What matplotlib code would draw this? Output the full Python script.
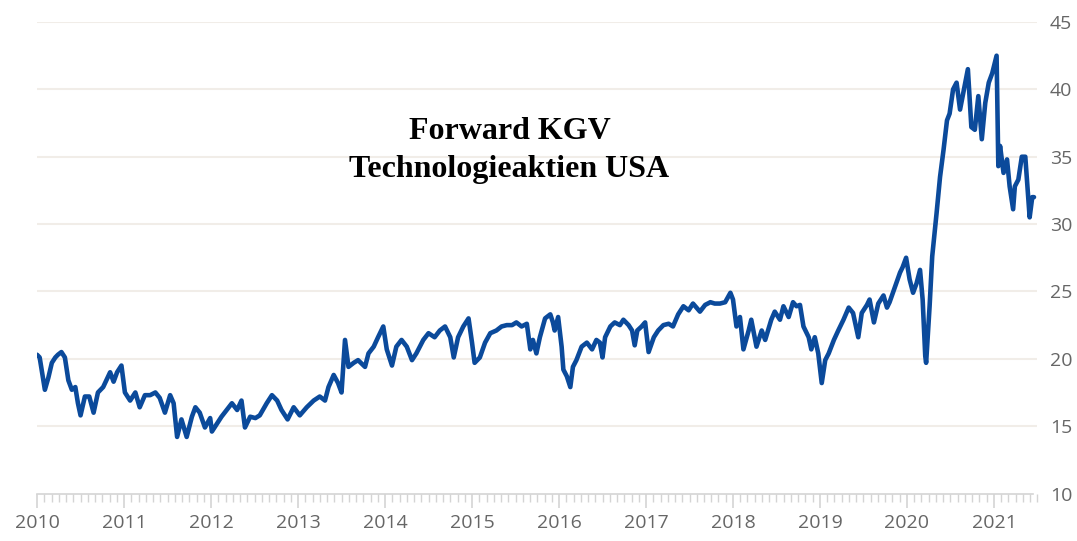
import matplotlib
matplotlib.use("Agg")
import matplotlib.pyplot as plt
from matplotlib.ticker import MultipleLocator, FixedLocator

# Decimal year and forward P/E
years = [
    2010.00, 2010.03, 2010.09, 2010.13, 2010.17, 2010.21, 2010.24, 2010.28, 2010.32, 2010.36,
    2010.40, 2010.44, 2010.47, 2010.50, 2010.55, 2010.60, 2010.65, 2010.70, 2010.76, 2010.84,
    2010.88, 2010.92, 2010.97, 2011.01, 2011.07, 2011.13, 2011.18, 2011.24, 2011.30, 2011.36,
    2011.41, 2011.47, 2011.53, 2011.57, 2011.61, 2011.66, 2011.72, 2011.78, 2011.82, 2011.87,
    2011.93, 2011.99, 2012.01, 2012.07, 2012.12, 2012.18, 2012.24, 2012.30, 2012.35, 2012.39,
    2012.45, 2012.51, 2012.56, 2012.64, 2012.70, 2012.76, 2012.81, 2012.88, 2012.95, 2013.02,
    2013.10, 2013.18, 2013.25, 2013.31, 2013.35, 2013.41, 2013.46, 2013.50, 2013.54, 2013.58,
    2013.64, 2013.69, 2013.77, 2013.81, 2013.87, 2013.92, 2013.98, 2014.02, 2014.08, 2014.13,
    2014.19, 2014.25, 2014.31, 2014.36, 2014.44, 2014.50, 2014.57, 2014.63, 2014.69, 2014.75,
    2014.79, 2014.84, 2014.90, 2014.96, 2015.00, 2015.03, 2015.09, 2015.15, 2015.21, 2015.28,
    2015.34, 2015.40, 2015.46, 2015.51, 2015.57, 2015.63, 2015.67, 2015.70, 2015.74, 2015.78,
    2015.84, 2015.90, 2015.93, 2015.95, 2015.99, 2016.03, 2016.05, 2016.09, 2016.13, 2016.16,
    2016.20, 2016.26, 2016.32, 2016.38, 2016.43, 2016.47, 2016.50, 2016.53, 2016.59, 2016.64,
    2016.70, 2016.74, 2016.80, 2016.84, 2016.87, 2016.90, 2016.95, 2016.99, 2017.03, 2017.09,
    2017.14, 2017.20, 2017.26, 2017.31, 2017.37, 2017.43, 2017.49, 2017.54, 2017.62, 2017.68,
    2017.74, 2017.79, 2017.85, 2017.91, 2017.97, 2018.00, 2018.04, 2018.08, 2018.12, 2018.18,
    2018.21, 2018.27, 2018.33, 2018.37, 2018.44, 2018.48, 2018.54, 2018.58, 2018.64, 2018.69,
    2018.73, 2018.77, 2018.81, 2018.87, 2018.90, 2018.94, 2018.98, 2019.02, 2019.06, 2019.10,
    2019.16, 2019.21, 2019.27, 2019.33, 2019.38, 2019.44, 2019.48, 2019.54, 2019.57, 2019.62,
    2019.67, 2019.73, 2019.77, 2019.80, 2019.86, 2019.92, 2019.95, 2019.99, 2020.03, 2020.07,
    2020.11, 2020.15, 2020.18, 2020.21, 2020.22, 2020.26, 2020.29, 2020.34, 2020.38, 2020.42,
    2020.46, 2020.49, 2020.53, 2020.57, 2020.61, 2020.64, 2020.70, 2020.74, 2020.78, 2020.82,
    2020.86, 2020.90, 2020.94, 2020.98, 2021.03, 2021.05, 2021.07, 2021.11, 2021.15, 2021.18,
    2021.22, 2021.24, 2021.28, 2021.32, 2021.36, 2021.41, 2021.44, 2021.46,
]
pe = [
    20.3, 20.1, 17.7, 18.6, 19.7, 20.1, 20.3, 20.5, 20.1, 18.4,
    17.7, 17.9, 16.7, 15.8, 17.2, 17.2, 16.0, 17.5, 17.9, 19.0,
    18.3, 19.0, 19.5, 17.5, 16.9, 17.5, 16.4, 17.3, 17.3, 17.5,
    17.1, 16.0, 17.3, 16.7, 14.2, 15.5, 14.2, 15.7, 16.4, 16.0,
    14.9, 15.6, 14.6, 15.2, 15.7, 16.2, 16.7, 16.2, 16.9, 14.9,
    15.7, 15.6, 15.8, 16.7, 17.3, 16.9, 16.2, 15.5, 16.4, 15.8,
    16.4, 16.9, 17.2, 16.9, 17.9, 18.8, 18.2, 17.5, 21.4, 19.4,
    19.7, 19.9, 19.4, 20.4, 20.9, 21.6, 22.4, 20.7, 19.5, 20.9,
    21.4, 20.9, 19.9, 20.4, 21.4, 21.9, 21.6, 22.1, 22.4, 21.6,
    20.1, 21.6, 22.4, 23.0, 21.2, 19.7, 20.1, 21.2, 21.9, 22.1,
    22.4, 22.5, 22.5, 22.7, 22.4, 22.6, 20.7, 21.4, 20.4, 21.6,
    23.0, 23.3, 22.7, 22.1, 23.1, 20.9, 19.2, 18.7, 17.9, 19.4,
    19.9, 20.9, 21.2, 20.7, 21.4, 21.2, 20.1, 21.6, 22.4, 22.7,
    22.5, 22.9, 22.5, 22.1, 21.0, 22.1, 22.4, 22.7, 20.5, 21.6,
    22.1, 22.5, 22.6, 22.4, 23.3, 23.9, 23.6, 24.1, 23.5, 24.0,
    24.2, 24.1, 24.1, 24.2, 24.9, 24.4, 22.4, 23.1, 20.7, 22.1,
    22.9, 20.9, 22.1, 21.4, 22.9, 23.5, 22.9, 23.9, 23.1, 24.2,
    23.9, 24.0, 22.4, 21.6, 20.7, 21.6, 20.4, 18.2, 19.9, 20.4,
    21.4, 22.1, 22.9, 23.8, 23.4, 21.6, 23.4, 24.0, 24.4, 22.7,
    24.1, 24.7, 23.8, 24.2, 25.3, 26.4, 26.8, 27.5, 25.9, 24.9,
    25.6, 26.6, 24.4, 20.2, 19.7, 23.9, 27.6, 30.8, 33.5, 35.5,
    37.7, 38.2, 40.0, 40.5, 38.5, 39.5, 41.5, 37.2, 37.0, 39.5,
    36.3, 39.0, 40.5, 41.2, 42.5, 34.3, 35.8, 33.8, 34.8, 32.8,
    31.1, 32.8, 33.3, 35.0, 35.0, 30.5, 32.0, 32.0,
]

year_ticks = list(range(2010, 2022))
year_labels = [str(y) for y in year_ticks]
y_ticks = [10, 15, 20, 25, 30, 35, 40, 45]
title_lines = "Forward KGV\nTechnologieaktien USA"

fig = plt.figure(figsize=(10.77, 5.41), dpi=100)
ax = fig.add_axes([0.0344, 0.0878, 0.9289, 0.8715])

ax.plot(years, pe, color="#0b4a9b", linewidth=3.3, solid_joinstyle="round",
        solid_capstyle="round", zorder=3)

ax.set_xlim(2010, 2021.5)
ax.set_ylim(10, 45)

ax.yaxis.tick_right()
ax.set_yticks(y_ticks)
ax.tick_params(axis="y", length=0, pad=9, labelsize=14, labelcolor="#666666")
for y in y_ticks[1:]:
    ax.axhline(y, color="#f1ede8", linewidth=1.5, zorder=1)

ax.xaxis.set_major_locator(FixedLocator(year_ticks))
ax.set_xticklabels(year_labels)
ax.xaxis.set_minor_locator(MultipleLocator(1 / 12))
ax.tick_params(axis="x", which="major", length=10, width=1.2, color="#d4d4d4",
               labelsize=14, labelcolor="#666666", pad=5)
ax.tick_params(axis="x", which="minor", length=6, width=1.0, color="#d4d4d4")

for s in ["top", "left", "right"]:
    ax.spines[s].set_visible(False)
ax.spines["bottom"].set_color("#d4d4d4")
ax.spines["bottom"].set_linewidth(1.2)
ax.spines["bottom"].set_bounds(2010, 2021.45)

for lab in ax.get_xticklabels() + ax.get_yticklabels():
    lab.set_fontfamily("Open Sans")

fig.text(0.473, 0.722, title_lines, ha="center", va="center",
         fontfamily="Liberation Serif", fontweight="bold", fontsize=23,
         color="black", linespacing=1.38)

fig.savefig("out.png", dpi=100, facecolor="white")
